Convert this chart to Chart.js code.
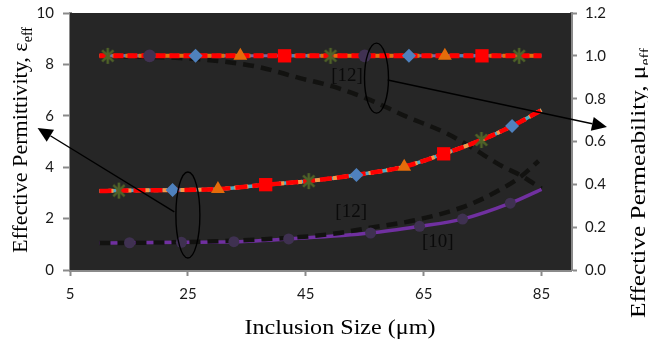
<!DOCTYPE html>
<html><head><meta charset="utf-8">
<script src="https://cdn.jsdelivr.net/npm/chart.js@4"></script>
<style>html,body{margin:0;padding:0;background:#fff;}canvas{display:block;}</style>
</head><body>
<canvas id="c" width="648" height="340"></canvas>
<script>
// ---- tick labels ----
const xTicks = [5, 25, 45, 65, 85];
const yLeftTicks = [0, 2, 4, 6, 8, 10];
const yRightTicks = [0, 0.2, 0.4, 0.6, 0.8, 1.0, 1.2];

// ---- permeability (right axis): flat line at 1.0 ----
const muFlatX = [10, 85];
const muFlatY = [1.0, 1.0];
const muStarX = [11.4, 49.2, 81.2];       const muStarY = [1.0, 1.0, 1.0];
const muCircleX = [18.5, 55.0];           const muCircleY = [1.0, 1.0];
const muDiamondX = [26.3, 62.5];          const muDiamondY = [1.0, 1.0];
const muTriangleX = [33.9, 68.6];         const muTriangleY = [1.0, 1.0];
const muSquareX = [41.4, 74.9];           const muSquareY = [1.0, 1.0];

// ---- permeability [12] (right axis): descending dashed ----
const muRefX = [10, 23.6, 30.4, 37.0, 44.0, 49.6, 55.9, 62.1, 68.9, 72.9, 78.4, 81.3, 85];
const muRefY = [1.0, 0.99, 0.975, 0.948, 0.896, 0.857, 0.794, 0.716, 0.638, 0.576, 0.483, 0.444, 0.38];

// ---- permittivity (left axis): middle curve ----
const epsX = [10, 13.3, 22.4, 30.1, 38.2, 45.5, 53.6, 61.7, 68.4, 74.8, 80.0, 85];
const epsY = [3.07, 3.09, 3.11, 3.15, 3.32, 3.46, 3.70, 4.02, 4.52, 5.06, 5.60, 6.22];
const epsStarX = [13.3, 45.5, 74.8];      const epsStarY = [3.09, 3.46, 5.06];
const epsDiamondX = [22.4, 53.6, 80.0];   const epsDiamondY = [3.11, 3.70, 5.60];
const epsTriangleX = [30.1, 61.7];        const epsTriangleY = [3.15, 4.02];
const epsSquareX = [38.2, 68.4];          const epsSquareY = [3.32, 4.52];

// ---- permittivity [10] (left axis): purple curve with circles ----
const eps10X = [10, 15.1, 23.9, 32.8, 42.1, 56.0, 64.3, 71.6, 79.7, 85];
const eps10Y = [1.05, 1.06, 1.08, 1.10, 1.21, 1.44, 1.70, 1.98, 2.60, 3.14];
const eps10MarkX = [15.1, 23.9, 32.8, 42.1, 56.0, 64.3, 71.6, 79.7];
const eps10MarkY = [1.06, 1.08, 1.10, 1.21, 1.44, 1.70, 1.98, 2.60];

// ---- permittivity [12] (left axis): rising dashed ----
const eps12X = [10, 20, 30, 38, 44, 50, 55.3, 63.8, 72.5, 78.4, 81.3, 84.5];
const eps12Y = [1.05, 1.07, 1.12, 1.20, 1.28, 1.42, 1.62, 1.95, 2.52, 3.18, 3.60, 4.24];

const pts = (xs, ys) => xs.map((x, i) => ({x, y: ys[i]}));

function makeAsterisk(size, color, lw) {
  const c = document.createElement('canvas');
  c.width = c.height = size;
  const g = c.getContext('2d');
  g.strokeStyle = color; g.lineWidth = lw;
  const h = size / 2, r = size / 2 - 1, d = r * Math.SQRT1_2;
  g.beginPath();
  g.moveTo(h, h - r); g.lineTo(h, h + r);
  g.moveTo(h - d, h - d); g.lineTo(h + d, h + d);
  g.moveTo(h + d, h - d); g.lineTo(h - d, h + d);
  g.stroke();
  return c;
}
const star = makeAsterisk(18, '#4f6228', 2.6);

function lineDs(xs, ys, axis, color, width, dash, order) {
  return {data: pts(xs, ys), yAxisID: axis, showLine: true, borderColor: color,
    borderWidth: width, borderDash: dash, pointRadius: 0, fill: false,
    cubicInterpolationMode: 'monotone', order, borderCapStyle: 'butt'};
}
function markDs(xs, ys, axis, style, color, radius, order) {
  return {data: pts(xs, ys), yAxisID: axis, showLine: false, pointStyle: style,
    pointRadius: radius, backgroundColor: color, borderColor: color, pointBorderWidth: 0, order};
}

const datasets = [
  lineDs(muRefX, muRefY, 'y2', '#121210', 4.5, [11, 7], 40),
  lineDs(muFlatX, muFlatY, 'y2', '#8064a2', 3, [], 30),
  lineDs(muFlatX, muFlatY, 'y2', '#4f81bd', 3, [6, 6], 29),
  lineDs(muFlatX, muFlatY, 'y2', '#e46c0a', 4, [8, 5], 28),
  lineDs(muFlatX, muFlatY, 'y2', '#ff0000', 5, [10, 4], 27),
  lineDs(epsX, epsY, 'y', '#4bacc6', 3.5, [], 26),
  lineDs(epsX, epsY, 'y', '#f79646', 4, [5, 4], 25),
  lineDs(epsX, epsY, 'y', '#ff0000', 4.5, [12, 5], 24),
  lineDs(eps10X, eps10Y, 'y', '#7030a0', 3.5, [], 23),
  lineDs(eps12X, eps12Y, 'y', '#121210', 4.5, [11, 7], 22),
  markDs(eps10MarkX, eps10MarkY, 'y', 'circle', '#3f3151', 5.5, 10),
  markDs(muCircleX, muCircleY, 'y2', 'circle', '#403152', 6.3, 9),
  markDs(muDiamondX, muDiamondY, 'y2', 'rectRot', '#4f81bd', 7, 8),
  markDs(muTriangleX, muTriangleY, 'y2', 'triangle', '#e46c0a', 8, 7),
  markDs(muSquareX, muSquareY, 'y2', 'rect', '#ff0000', 9.4, 6),
  markDs(muStarX, muStarY, 'y2', star, '#4f6228', 9, 5),
  markDs(epsDiamondX, epsDiamondY, 'y', 'rectRot', '#4f81bd', 7, 4),
  markDs(epsTriangleX, epsTriangleY, 'y', 'triangle', '#e46c0a', 8, 3),
  markDs(epsSquareX, epsSquareY, 'y', 'rect', '#ff0000', 9.4, 2),
  markDs(epsStarX, epsStarY, 'y', star, '#4f6228', 9, 1)
];

const SERIF = '"Liberation Serif", "Times New Roman", serif';

function drawFitted(ctx, parts, cx, cy, rot, targetW) {
  ctx.save();
  let total = 0;
  parts.forEach(p => { ctx.font = p.size + 'px ' + SERIF; p.w = ctx.measureText(p.t).width; total += p.w; });
  ctx.translate(cx, cy);
  ctx.rotate(rot);
  ctx.scale(targetW / total, 1);
  let x = -total / 2;
  ctx.fillStyle = '#000';
  ctx.textBaseline = 'alphabetic';
  ctx.textAlign = 'left';
  parts.forEach(p => { ctx.font = p.size + 'px ' + SERIF; ctx.fillText(p.t, x, p.dy); x += p.w; });
  ctx.restore();
}

function arrow(ctx, x1, y1, x2, y2) {
  const a = Math.atan2(y2 - y1, x2 - x1), L = 15, W = 7;
  const bx = x2 - L * Math.cos(a), by = y2 - L * Math.sin(a);
  ctx.beginPath(); ctx.moveTo(x1, y1); ctx.lineTo(bx, by); ctx.stroke();
  ctx.beginPath();
  ctx.moveTo(x2, y2);
  ctx.lineTo(bx + W * Math.sin(a), by - W * Math.cos(a));
  ctx.lineTo(bx - W * Math.sin(a), by + W * Math.cos(a));
  ctx.closePath(); ctx.fill();
}

const deco = {
  id: 'deco',
  beforeDatasetsDraw(chart) {
    const {ctx, chartArea: a} = chart;
    ctx.save(); ctx.fillStyle = '#262626';
    ctx.fillRect(a.left, a.top, a.right - a.left, a.bottom - a.top);
    ctx.restore();
  },
  afterDraw(chart) {
    const {ctx, scales: {x, y, y2}} = chart;
    const X = v => x.getPixelForValue(v), YL = v => y.getPixelForValue(v), YR = v => y2.getPixelForValue(v);
    ctx.save();
    ctx.strokeStyle = '#000'; ctx.fillStyle = '#000'; ctx.lineWidth = 1.4;
    // ellipses
    ctx.beginPath(); ctx.ellipse(X(57.0), YR(0.896), 12, 35, 0, 0, 2 * Math.PI); ctx.stroke();
    ctx.beginPath(); ctx.ellipse(X(25.0), YL(2.14), 12, 43, 0, 0, 2 * Math.PI); ctx.stroke();
    // arrows
    arrow(ctx, X(58.9), YR(0.887), X(96.1), YR(0.668));
    arrow(ctx, X(22.7), YL(2.26), X(-0.5), YL(5.53));
    // labels
    ctx.font = '19px ' + SERIF; ctx.textAlign = 'center'; ctx.textBaseline = 'middle';
    ctx.fillStyle = '#0a0a0a';
    ctx.fillText('[12]', X(52.0), YR(0.906));
    ctx.fillText('[12]', X(52.7), YL(2.24));
    ctx.fillText('[10]', X(67.4), YL(1.07));
    ctx.restore();
    // axis titles
    drawFitted(ctx, [{t: 'Inclusion Size (\u03bcm)', size: 22, dy: 0}], 340, 334, 0, 191);
    drawFitted(ctx, [{t: 'Effective Permittivity, \u03b5', size: 22, dy: 0}, {t: 'eff', size: 14, dy: 5}], 27, 140, -Math.PI / 2, 226);
    drawFitted(ctx, [{t: 'Effective Permeability, \u03bc', size: 22, dy: 0}, {t: 'eff', size: 14, dy: 5}], 645, 183, -Math.PI / 2, 270);
  }
};

const tickFont = {family: 'Lato', size: 15};
const axisGrid = {drawOnChartArea: false, drawTicks: true, tickColor: '#8a8a8a', tickWidth: 2};
const axisBorder = {display: true, color: '#8a8a8a', width: 3};
const noPadV = s => { s.paddingTop = 0; s.paddingBottom = 0; };

new Chart(document.getElementById('c'), {
  type: 'scatter',
  data: {datasets},
  plugins: [deco],
  options: {
    responsive: false, animation: false, events: [], devicePixelRatio: 1,
    layout: {padding: {top: 13, left: 0, right: 0, bottom: 0}},
    plugins: {legend: {display: false}, tooltip: {enabled: false}},
    scales: {
      x: {type: 'linear', min: 5, max: 90, position: 'bottom',
        afterBuildTicks: s => { s.ticks = xTicks.map(v => ({value: v})); },
        afterFit: s => { s.height = 70; s.paddingLeft = 0; s.paddingRight = 0; },
        grid: {...axisGrid, tickLength: 6}, border: axisBorder,
        ticks: {font: tickFont, color: '#1a1a1a', padding: 9, maxRotation: 0, autoSkip: false}},
      y: {type: 'linear', min: 0, max: 10, position: 'left',
        afterBuildTicks: s => { s.ticks = yLeftTicks.map(v => ({value: v})); },
        afterFit: s => { s.width = 70; noPadV(s); },
        grid: {...axisGrid, tickLength: 7}, border: axisBorder,
        ticks: {font: tickFont, color: '#1a1a1a', padding: 9}},
      y2: {type: 'linear', min: 0, max: 1.2, position: 'right',
        afterBuildTicks: s => { s.ticks = yRightTicks.map(v => ({value: v})); },
        afterFit: s => { s.width = 77; noPadV(s); },
        grid: {...axisGrid, tickLength: 6}, border: axisBorder,
        ticks: {font: tickFont, color: '#1a1a1a', padding: 8, callback: v => Number(v).toFixed(1)}}
    }
  }
});
</script>
</body></html>
